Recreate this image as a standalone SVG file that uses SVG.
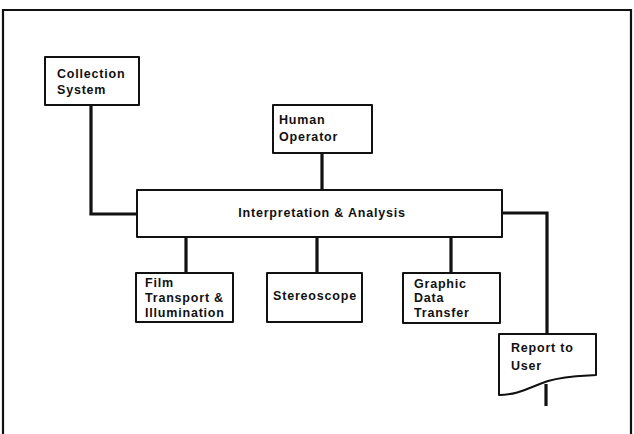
<svg xmlns="http://www.w3.org/2000/svg" width="634" height="434" viewBox="0 0 634 434">
<style>
.bx{fill:#fff;stroke:#111;stroke-width:2;stroke-linejoin:round}
.cn{fill:none;stroke:#111;stroke-width:3.2;stroke-linejoin:miter}
.t{font-family:"Liberation Sans",Arial,sans-serif;font-weight:bold;font-size:12.5px;letter-spacing:0.8px;fill:#111}
</style>
<rect width="634" height="434" fill="#fff"/>
<path d="M3,434 V10 H631 V434" fill="none" stroke="#111" stroke-width="2.2"/>
<g id="connectors">
<path class="cn" d="M91,105 V214 H137"/>
<path class="cn" d="M322,153 V190"/>
<path class="cn" d="M502,213 H547 V334"/>
<path class="cn" d="M186,237 V273"/>
<path class="cn" d="M317,237 V273"/>
<path class="cn" d="M451,237 V273"/>
<path class="cn" d="M546,384 V406"/>
</g>
<g id="collection">
<rect class="bx" x="45" y="57" width="94" height="48"/>
<text class="t" x="57" y="78">Collection</text>
<text class="t" x="57" y="94">System</text>
</g>
<g id="human">
<rect class="bx" x="273" y="105" width="99" height="48"/>
<text class="t" x="279" y="124">Human</text>
<text class="t" x="279" y="141">Operator</text>
</g>
<g id="interp">
<rect class="bx" x="137" y="190" width="365" height="47"/>
<text class="t" x="322" y="217" text-anchor="middle">Interpretation &amp; Analysis</text>
</g>
<g id="film">
<rect class="bx" x="136" y="273" width="97" height="49"/>
<text class="t" x="145" y="287">Film</text>
<text class="t" x="145" y="302">Transport &amp;</text>
<text class="t" x="145" y="317">Illumination</text>
</g>
<g id="stereo">
<rect class="bx" x="267" y="273" width="95" height="49"/>
<text class="t" x="315" y="300" text-anchor="middle">Stereoscope</text>
</g>
<g id="graphic">
<rect class="bx" x="403" y="273" width="97" height="50"/>
<text class="t" x="414" y="288">Graphic</text>
<text class="t" x="414" y="302">Data</text>
<text class="t" x="414" y="317">Transfer</text>
</g>
<g id="report">
<path class="bx" d="M499,334 H596 V375 C580,376 565,376 548,381 C530,387 518,395 499,395 Z"/>
<text class="t" x="511" y="352">Report to</text>
<text class="t" x="511" y="370">User</text>
</g>
</svg>
